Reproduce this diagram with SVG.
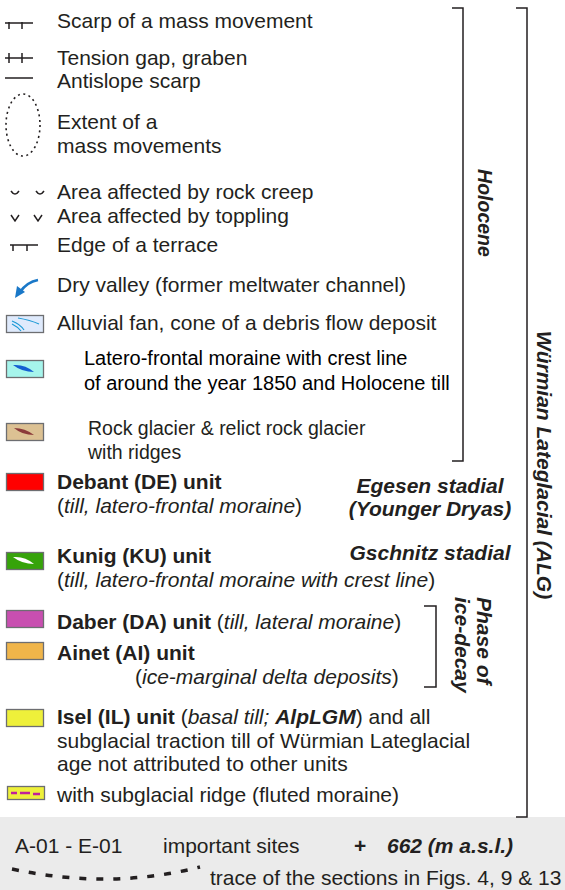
<svg xmlns="http://www.w3.org/2000/svg" width="565" height="890" viewBox="0 0 565 890">
<style>
text{font-family:"Liberation Sans",Arial,sans-serif;font-size:21px;fill:#231f20}
.b{font-weight:bold}
.i{font-style:italic}
.bi{font-weight:bold;font-style:italic}
.sym{stroke:#231f20;stroke-width:1.5;fill:none}
.box{stroke:#6d6e71;stroke-width:1.3}
.br{stroke:#231f20;stroke-width:1.5;fill:none}
</style>
<rect x="0" y="0" width="565" height="890" fill="#ffffff"/>
<rect x="0" y="817" width="565" height="73" fill="#ebebeb"/>

<g id="connectors">
  <path class="br" d="M452 8H463V461H452"/>
  <path class="br" d="M516 8H527V817H516"/>
  <path class="br" d="M424 606H436V687H424"/>
</g>

<g id="scarp">
  <path class="sym" d="M5 23H33M9 22V29M22 22V29"/>
  <text x="57" y="28">Scarp of a mass movement</text>
</g>
<g id="tension">
  <path class="sym" d="M5 58H33M9 53V63M22 53V63"/>
  <text x="57" y="65">Tension gap, graben</text>
</g>
<g id="antislope">
  <path class="sym" d="M5 78H33"/>
  <text x="57" y="88">Antislope scarp</text>
</g>
<g id="extent">
  <ellipse cx="23" cy="125" rx="17" ry="31" fill="none" stroke="#231f20" stroke-width="1.6" stroke-dasharray="2 3.5"/>
  <text x="57" y="129">Extent of a</text>
  <text x="57" y="153">mass movements</text>
</g>
<g id="creep">
  <path class="sym" d="M11 191Q15 197 19 191M36 191Q40 197 44 191"/>
  <text x="57" y="199">Area affected by rock creep</text>
</g>
<g id="toppling">
  <path class="sym" d="M11 215L15 221L19 215M34 215L38 221L42 215"/>
  <text x="57" y="223">Area affected by toppling</text>
</g>
<g id="terrace">
  <path class="sym" d="M10 245H38M13 245V251M27 245V251"/>
  <text x="57" y="252">Edge of a terrace</text>
</g>
<g id="dryvalley">
  <path d="M38 280Q27 282 20 292" fill="none" stroke="#1a78c8" stroke-width="2.5"/>
  <path d="M15 298L17 286L25 292Z" fill="#1a78c8"/>
  <text x="57" y="292">Dry valley (former meltwater channel)</text>
</g>
<g id="alluvial">
  <rect class="box" x="6.5" y="315.5" width="37" height="17" fill="#dfeafc"/>
  <path d="M12 321Q20 324 24 330M12 324Q18 327 21 331M18 318Q30 320 39 324" fill="none" stroke="#1c9ad6" stroke-width="1.2"/>
  <text x="57" y="330">Alluvial fan, cone of a debris flow deposit</text>
</g>
<g id="latero">
  <rect class="box" x="6.5" y="360.5" width="37" height="17" fill="#a6f5ec"/>
  <path d="M13 365Q25 364 34 372Q22 372 13 365Z" fill="#1460d2"/>
  <text x="84" y="365" style="font-size:20px;fill:#000">Latero-frontal moraine with crest line</text>
  <text x="84" y="390" style="font-size:20px;fill:#000">of around the year 1850 and Holocene till</text>
</g>
<g id="rockglacier">
  <rect class="box" x="6.5" y="423.5" width="37" height="17" fill="#dcc193"/>
  <path d="M14 428Q25 428 34 435Q22 435 14 428Z" fill="#8b3a3a"/>
  <text x="88" y="435" style="font-size:19.5px">Rock glacier &amp; relict rock glacier</text>
  <text x="88" y="459" style="font-size:19.5px">with ridges</text>
</g>
<g id="debant">
  <rect class="box" x="6.5" y="473.5" width="37" height="17" fill="#ff0000"/>
  <text x="57" y="489" class="b">Debant (DE) unit</text>
  <text x="57" y="513">(<tspan class="i">till, latero-frontal moraine</tspan>)</text>
</g>
<g id="egesen">
  <text x="430" y="493" class="bi" text-anchor="middle">Egesen stadial</text>
  <text x="430" y="516" class="bi" text-anchor="middle">(Younger Dryas)</text>
</g>
<g id="kunig">
  <rect class="box" x="6.5" y="552.5" width="37" height="17" fill="#36a30a"/>
  <path d="M13 557Q25 556 34 564Q22 564 13 557Z" fill="#ffffff"/>
  <text x="57" y="563" class="b">Kunig (KU) unit</text>
  <text x="57" y="587">(<tspan class="i">till, latero-frontal moraine with crest line</tspan>)</text>
</g>
<g id="gschnitz">
  <text x="430" y="560" class="bi" text-anchor="middle">Gschnitz stadial</text>
</g>
<g id="daber">
  <rect class="box" x="6.5" y="610.5" width="37" height="17" fill="#c84fb0"/>
  <text x="57" y="629"><tspan class="b">Daber (DA) unit</tspan> (<tspan class="i">till, lateral moraine</tspan>)</text>
</g>
<g id="ainet">
  <rect class="box" x="6.5" y="642.5" width="37" height="17" fill="#f0b54a"/>
  <text x="57" y="660" class="b">Ainet (AI) unit</text>
  <text x="135" y="684">(<tspan class="i">ice-marginal delta deposits</tspan>)</text>
</g>
<g id="phase">
  <text class="bi" transform="translate(477 597) rotate(90)">Phase of</text>
  <text class="bi" transform="translate(455 597) rotate(90)">ice-decay</text>
</g>
<g id="isel">
  <rect class="box" x="6.5" y="709.5" width="37" height="17" fill="#eef03a"/>
  <text x="57" y="724"><tspan class="b">Isel (IL) unit</tspan> (<tspan class="i">basal till; </tspan><tspan class="bi">AlpLGM</tspan>) and all</text>
  <text x="57" y="748">subglacial traction till of Würmian Lateglacial</text>
  <text x="57" y="771">age not attributed to other units</text>
</g>
<g id="fluted">
  <rect class="box" x="7.5" y="786.5" width="37" height="13" fill="#eef03a"/>
  <path d="M11 793H17M20 793H30M33 794H40" stroke="#c0209a" stroke-width="2.5" fill="none"/>
  <text x="57" y="802">with subglacial ridge (fluted moraine)</text>
</g>
<g id="holocene">
  <text class="bi" text-anchor="middle" transform="translate(478 213) rotate(90)" style="font-size:19.5px">Holocene</text>
</g>
<g id="alg">
  <text class="bi" text-anchor="middle" transform="translate(537 465) rotate(90)">Würmian Lateglacial (ALG)</text>
</g>
<g id="sites">
  <text x="15" y="853">A-01 - E-01</text>
  <text x="163" y="853">important sites</text>
  <text x="354" y="853" class="b">+</text>
  <text x="387" y="853" class="bi">662 (m a.s.l.)</text>
</g>
<g id="trace">
  <path d="M12 869Q110 890 200 867" fill="none" stroke="#231f20" stroke-width="3.5" stroke-dasharray="7 10"/>
  <text x="210" y="885">trace of the sections in Figs. 4, 9 &amp; 13</text>
</g>
</svg>
